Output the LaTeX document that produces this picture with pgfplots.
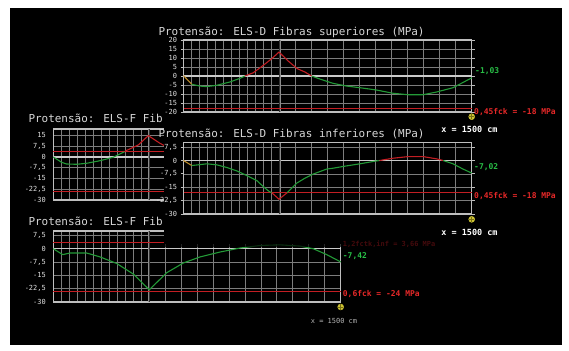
\documentclass[border=0pt]{standalone}
\usepackage{pgfplots}
\pgfplotsset{compat=1.18}
\usepackage{fontspec}
\setmainfont{DejaVu Sans Mono}

\definecolor{titulo}{RGB}{215,215,215}
\definecolor{rotulo}{RGB}{225,225,225}
\definecolor{grade}{RGB}{125,125,125}
\definecolor{caixa}{RGB}{190,190,190}
\definecolor{verde}{RGB}{35,155,55}
\definecolor{vermelho}{RGB}{195,30,35}
\definecolor{laranja}{RGB}{190,140,40}
\definecolor{verdetxt}{RGB}{40,190,70}
\definecolor{vermtxt}{RGB}{230,40,40}
\definecolor{amarelo}{RGB}{205,195,50}
\definecolor{oliva}{RGB}{120,110,20}

\pgfplotsset{
  painel/.style={
    scale only axis, anchor=north west, clip=false,
    xmin=0, xmax=1500,
    xtick={0,41.667,83.333,125,166.667,208.333,250,291.667,333.333,375,416.667,458.333,500,
           583.333,666.667,750,833.333,916.667,1000,1083.333,1166.667,1250,1333.333,1416.667,1500},
    xticklabels={},
    x tick style={draw=none},
    grid=major,
    grid style={draw=grade, line width=0.7bp},
    axis line style={draw=caixa, line width=1.3bp},
    y tick style={draw=caixa, line width=0.8bp},
    tick align=outside, major tick length=3bp,
    yticklabel style={font=\fontsize{7}{8}\selectfont, text=rotulo},
    /pgf/number format/use comma,
    /pgf/number format/assume math mode=true,
    axis background/.style={fill=black},
  },
  zero/.style={draw=rotulo!90!black, line width=1.3bp},
  apoio/.style={draw=gray!90!white, line width=0.6bp, double=black!60!gray, double distance=0.9bp},
  limite/.style={draw=vermelho, line width=1.3bp},
  cverde/.style={draw=verde, line width=1.1bp},
  cverm/.style={draw=vermelho, line width=1.1bp},
  clar/.style={draw=laranja, line width=1.1bp},
  marcador/.style={only marks, mark=*, mark size=3bp, mark options={fill=amarelo, draw=amarelo}},
  cruz/.style={only marks, mark=+, mark size=2.6bp, mark options={draw=oliva, line width=0.7bp}},
}

\begin{document}
\begin{tikzpicture}
\useasboundingbox (0,0) rectangle (569bp,-351bp);
\fill[white] (0,0) rectangle (569bp,-351bp);
\fill[black] (10bp,-8bp) rectangle (562bp,-345bp);

% ---------- ELS-F fibras superiores (janela de tras) ----------
\node[anchor=base west, inner sep=0, text=titulo, font=\fontsize{11}{13}\selectfont]
  at (28.3bp,-122.7bp) {Protensão: ELS-F Fib};
\begin{axis}[painel, at={(53.3bp,-129bp)}, width=287.4bp, height=71bp,
  ymin=-30, ymax=19.5, ytick={-30,-22.5,...,15}, major tick length=0pt,
  yticklabel style={xshift=-4bp}]
\addplot[zero] coordinates {(0,0) (1500,0)};
\addplot[apoio] coordinates {(500,-30) (500,19.5)};
\addplot[limite] coordinates {(0,3.66) (1500,3.66)};
\addplot[limite] coordinates {(0,-24) (1500,-24)};
\addplot[cverde] coordinates {(0,0) (43,-3.7) (70,-4.9) (122,-5.1) (174,-4.4) (244,-2.6) (313,-0.2) (372,3.66)};
\addplot[cverm] coordinates {(372,3.66) (383,4.6) (444,8.4) (496,14.9) (557,9.5) (600,6.5)};
\end{axis}

% ---------- ELS-F fibras inferiores (janela de baixo) ----------
\node[anchor=base west, inner sep=0, text=titulo, font=\fontsize{11}{13}\selectfont]
  at (28.3bp,-225bp) {Protensão: ELS-F Fib};
\begin{axis}[painel, at={(53.3bp,-231bp)}, width=287.4bp, height=71bp,
  ymin=-30, ymax=10, ytick={-30,-22.5,...,7.5}, major tick length=0pt,
  yticklabel style={xshift=-4bp}]
\addplot[zero] coordinates {(0,0) (1500,0)};
\addplot[apoio] coordinates {(500,-30) (500,10)};
\addplot[limite] coordinates {(0,3.66) (1500,3.66)};
\addplot[limite] coordinates {(0,-24) (1500,-24)};
\addplot[cverde] coordinates {(0,0) (49,-3.3) (87,-2.4) (174,-2.4) (244,-4.6) (331,-8.3) (418,-14.3)
  (501,-23.1) (592,-13.5) (679,-8) (766,-4.6) (870,-1.85) (974,0.4) (1079,1.85) (1183,2.2)
  (1288,1.5) (1357,0) (1427,-3.3) (1500,-7.42)};
\addplot[marcador] coordinates {(1500,-32.8)};
\addplot[cruz] coordinates {(1500,-32.8)};
\end{axis}
\node[anchor=west, inner sep=0, text=verdetxt, font=\fontsize{8}{9}\selectfont\bfseries] at (342.7bp,-255.7bp) {-7,42};
\node[anchor=west, inner sep=0, text=vermtxt, font=\fontsize{8}{9}\selectfont\bfseries] at (342.7bp,-294.3bp) {0,6fck = -24 MPa};
\node[anchor=center, inner sep=0, text=rotulo!80!black, font=\fontsize{7}{8}\selectfont] at (334bp,-321bp) {x = 1500 cm};

% ---------- janelas da frente (ELS-D) ----------
\fill[black] (164bp,-8bp) rectangle (562bp,-244bp);
\fill[black, opacity=0.7] (164bp,-244bp) rectangle (562bp,-247.2bp);
\node[anchor=west, inner sep=0, text=vermelho!35!black, font=\fontsize{7}{8}\selectfont\bfseries] at (342.7bp,-244.5bp) {1,2fctk,inf = 3,66 MPa};

% ELS-D fibras superiores
\node[anchor=base west, inner sep=0, text=titulo, font=\fontsize{11}{13}\selectfont]
  at (158.3bp,-35bp) {Protensão: ELS-D Fibras superiores (MPa)};
\begin{axis}[painel, at={(183.5bp,-40bp)}, width=288.2bp, height=72bp,
  ymin=-20, ymax=20, ytick={-20,-15,...,20}]
\addplot[zero] coordinates {(0,0) (1500,0)};
\addplot[apoio] coordinates {(500,-20) (500,20)};
\addplot[limite] coordinates {(0,-18) (1500,-18)};
\addplot[clar] coordinates {(0,0.2) (43,-4.6)};
\addplot[cverde] coordinates {(43,-4.6) (86,-5.6) (120,-5.9) (172,-5.2) (242,-3.3) (294,-1.3) (320,0)};
\addplot[cverm] coordinates {(320,0) (363,1.8) (415,5.9) (459,9.6) (497,13.3) (545,8.3) (592,4.1) (632,2.2) (667,0)};
\addplot[cverde] coordinates {(667,0) (710,-1.7) (779,-4.1) (849,-5.6) (918,-6.5) (1005,-7.8)
  (1091,-9.6) (1169,-10.4) (1247,-10.4) (1317,-8.9) (1403,-6.5) (1500,-1.03)};
\addplot[marcador] coordinates {(1500,-22.6)};
\addplot[cruz] coordinates {(1500,-22.6)};
\end{axis}
\node[anchor=west, inner sep=0, text=verdetxt, font=\fontsize{8}{9}\selectfont\bfseries] at (475bp,-71bp) {-1,03};
\node[anchor=west, inner sep=0, text=vermtxt, font=\fontsize{8}{9}\selectfont\bfseries] at (474bp,-112.3bp) {0,45fck = -18 MPa};
\node[anchor=center, inner sep=0, text=white, font=\fontsize{8.5}{9}\selectfont\bfseries] at (469.5bp,-129bp) {x = 1500 cm};

% ELS-D fibras inferiores
\node[anchor=base west, inner sep=0, text=titulo, font=\fontsize{11}{13}\selectfont]
  at (158.3bp,-137.3bp) {Protensão: ELS-D Fibras inferiores (MPa)};
\begin{axis}[painel, at={(183.5bp,-142.7bp)}, width=288.2bp, height=71.3bp,
  ymin=-30, ymax=10, ytick={-30,-22.5,...,7.5}]
\addplot[zero] coordinates {(0,0) (1500,0)};
\addplot[apoio] coordinates {(500,-30) (500,10)};
\addplot[limite] coordinates {(0,-18) (1500,-18)};
\addplot[clar] coordinates {(0,0) (43,-2.8)};
\addplot[cverde] coordinates {(43,-2.8) (77,-2.4) (121,-1.85) (173,-2.4) (225,-3.9) (277,-5.8)
  (329,-8.4) (381,-11.2) (415,-14.6) (446,-17.4) (459,-18)};
\addplot[cverm] coordinates {(459,-18) (497,-21.7) (540,-18)};
\addplot[cverde] coordinates {(540,-18) (589,-12.7) (632,-9.9) (675,-7.6) (745,-4.8) (779,-4.3)
  (849,-3.0) (918,-1.85) (1005,-0.2) (1020,0)};
\addplot[cverm] coordinates {(1020,0) (1091,1.3) (1169,2.2) (1247,2.2) (1317,0.95) (1351,0)};
\addplot[cverde] coordinates {(1351,0) (1403,-1.85) (1455,-4.8) (1500,-7.02)};
\addplot[marcador] coordinates {(1500,-33)};
\addplot[cruz] coordinates {(1500,-33)};
\end{axis}
\node[anchor=west, inner sep=0, text=verdetxt, font=\fontsize{8}{9}\selectfont\bfseries] at (474bp,-166.7bp) {-7,02};
\node[anchor=west, inner sep=0, text=vermtxt, font=\fontsize{8}{9}\selectfont\bfseries] at (474bp,-196bp) {0,45fck = -18 MPa};
\node[anchor=center, inner sep=0, text=white, font=\fontsize{8.5}{9}\selectfont\bfseries] at (469.5bp,-232bp) {x = 1500 cm};
\end{tikzpicture}
\end{document}
